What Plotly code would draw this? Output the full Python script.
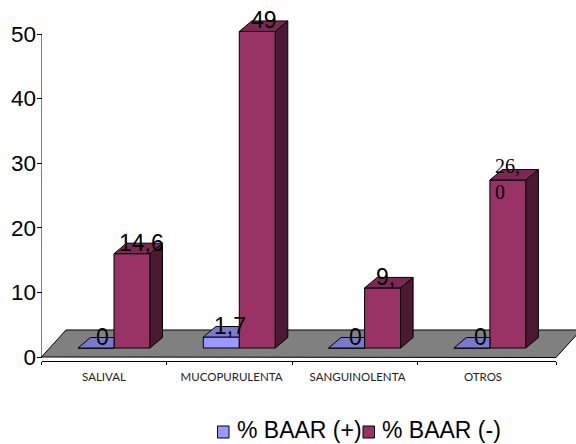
import plotly.graph_objects as go

categories = ["SALIVAL", "MUCOPURULENTA", "SANGUINOLENTA", "OTROS"]
series_names = ["% BAAR (+)", "% BAAR (-)"]
baar_pos = [0, 1.7, 0, 0]
baar_neg = [14.6, 49, 9.3, 26.0]
labels_pos = ["0", "1,7", "0", "0"]
labels_neg = ["14,6", "49", "9,", "26,<br>0"]
y_ticks = [0, 10, 20, 30, 40, 50]

W, H = 576, 444
X0, X1 = 41.5, 556          # pixel span of the category axis
Y0, Y50 = 357, 34           # pixel rows of value 0 and value 50
SLOT = 125.3
PX_Y = (Y0 - Y50) / 50
BASE = 9 / PX_Y             # bars stand a little behind the floor's front edge
BAR = 36 / SLOT
DX, DY = 12.5 / SLOT, 10.5 / PX_Y   # oblique depth of each bar

BLUE, BLUE_TOP = "#9999ff", "#7a7acc"
WINE, WINE_TOP, WINE_SIDE = "#993366", "#7a2952", "#4c1933"

blue_x = [i + (96 - X0) / SLOT for i in range(4)]
wine_x = [i + (132 - X0) / SLOT for i in range(4)]
fig = go.Figure()


def face(xs, ys, color):
    fig.add_trace(go.Scatter(
        x=xs + xs[:1], y=ys + ys[:1], mode="lines", fill="toself", fillcolor=color,
        line=dict(color="black", width=1), showlegend=False, hoverinfo="skip",
    ))


fig.add_trace(go.Bar(x=blue_x, y=baar_pos, base=BASE, width=BAR, name=series_names[0],
                     marker=dict(color=BLUE, line=dict(color="black", width=1)),
                     showlegend=False))
fig.add_trace(go.Bar(x=wine_x, y=baar_neg, base=BASE, width=BAR, name=series_names[1],
                     marker=dict(color=WINE, line=dict(color="black", width=1)),
                     showlegend=False))

for bx, bv, wx, wv in zip(blue_x, baar_pos, wine_x, baar_neg):
    left, right = bx - BAR / 2, bx + BAR / 2
    top = BASE + bv
    # blue cap stops where the wine bar's front face begins
    face([left, left + DX, right, right], [top, top + DY, top + DY, top], BLUE_TOP)
    left, right = wx - BAR / 2, wx + BAR / 2
    top = BASE + wv
    face([left, left + DX, right + DX, right], [top, top + DY, top + DY, top], WINE_TOP)
    face([right, right + DX, right + DX, right],
         [top, top + DY, BASE + DY, BASE], WINE_SIDE)

# value axis line stops at the last tick while the plot area runs on above it
fig.add_trace(go.Scatter(x=[0, 0], y=[y_ticks[0], y_ticks[-1]], mode="lines",
                         line=dict(color="black", width=1), showlegend=False,
                         hoverinfo="skip", cliponaxis=False))


def annotate(x, y, text, dx, dy, family="Liberation Sans", size=23, align="center"):
    fig.add_annotation(x=x, y=y, text=text, showarrow=False, xshift=dx, yshift=dy,
                       align=align, font=dict(family=family, size=size, color="black"))


for x, v, t, dx in zip(blue_x, baar_pos, labels_pos, [6.5, 9, 9, 9]):
    annotate(x, BASE + v, t, dx, 11)
for x, v, t, dx in zip(wine_x, baar_neg, labels_neg, [9, 6.5, 3, 0]):
    if "<br>" in t:
        annotate(x, BASE + v, t, dx, 1, "Liberation Serif", 20, "left")
    else:
        annotate(x, BASE + v, t, dx, 11)


def px(x, y):
    return x / W, 1 - y / H


floor = [px(41.5, 357), px(66, 330), px(581, 330), px(556, 357.5)]
fig.add_shape(
    type="path", xref="paper", yref="paper", layer="below",
    path="M" + " L".join(f"{a:.5f},{b:.5f}" for a, b in floor) + " Z",
    fillcolor="#808080", line=dict(color="black", width=1),
)

# key below the plot
for name, color, sx, tx in zip(series_names, [BLUE, WINE], [217.5, 363], [236, 381]):
    (a, b), (c, d) = px(sx, 426), px(sx + 11.5, 438)
    fig.add_shape(type="rect", xref="paper", yref="paper", x0=a, y0=b, x1=c, y1=d,
                  fillcolor=color, line=dict(color="black", width=1))
    fig.add_annotation(xref="paper", yref="paper", x=tx / W, y=1 - 430 / H, text=name,
                       showarrow=False, xanchor="left", yanchor="middle",
                       xshift=-1, font=dict(family="Liberation Sans", size=23, color="black"))

fig.update_layout(
    width=W, height=H, margin=dict(l=0, r=0, t=0, b=0, autoexpand=False),
    paper_bgcolor="white", plot_bgcolor="rgba(0,0,0,0)",
    barmode="overlay", hovermode=False, showlegend=False,
    font=dict(family="Liberation Sans", color="black"),
    xaxis=dict(
        domain=[X0 / W, X1 / W], range=[0, (X1 - X0) / SLOT],
        anchor="free", position=1 - 361 / H,
        showgrid=False, zeroline=False, showline=True, linecolor="black", linewidth=1,
        tickmode="array",
        tickvals=[(104 - X0) / SLOT, (231.5 - X0) / SLOT, (357.5 - X0) / SLOT, (483 - X0) / SLOT],
        ticktext=categories, ticks="outside", ticklen=5, tickcolor="rgba(0,0,0,0)",
        tickfont=dict(family="Lato", size=11.5, color="#222222"),
        minor=dict(tickmode="array", tickvals=[0, 1, 2, 3, (X1 - X0) / SLOT],
                   ticks="outside", ticklen=3, tickcolor="black", showgrid=False),
    ),
    yaxis=dict(
        domain=[1 - Y0 / H, 1], range=[0, Y0 / PX_Y],
        anchor="free", position=X0 / W,
        showgrid=False, zeroline=False, showline=False,
        tickmode="array", tickvals=y_ticks, ticks="outside", ticklen=5, tickcolor="black",
        ticklabelstandoff=-4,
        tickfont=dict(family="Liberation Sans", size=22.5, color="black"),
    ),
)

fig.write_html("out.html")
